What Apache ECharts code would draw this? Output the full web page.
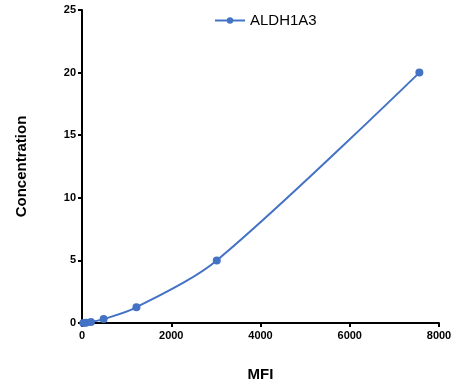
<!DOCTYPE html>
<html><head><meta charset="utf-8">
<script src="https://cdn.jsdelivr.net/npm/echarts@6/dist/echarts.min.js"></script>
<style>html,body{margin:0;padding:0;background:#fff}#c{width:469px;height:392px}</style>
</head><body><div id="c"></div>
<script>
const seriesName = 'ALDH1A3';
const mfi = [30, 90, 200, 485, 1220, 3020, 7560];
const concentration = [0, 0.02, 0.078, 0.3125, 1.25, 5, 20];
const xTicks = [0, 2000, 4000, 6000, 8000];
const yTicks = [0, 5, 10, 15, 20, 25];

const chart = echarts.init(document.getElementById('c'));
const axisFont = {fontFamily: 'Liberation Sans, Arial, sans-serif', fontWeight: 'bold', fontSize: 11, color: '#000'};
chart.setOption({
  animation: false,
  grid: {left: 82, top: 10, right: 30, bottom: 69},
  legend: {
    data: [seriesName], top: 8, left: 209,
    itemWidth: 30, itemHeight: 8, itemGap: 6,
    textStyle: {fontFamily: 'Liberation Sans, Arial, sans-serif', fontSize: 15, color: '#000'}
  },
  xAxis: {
    type: 'value', min: xTicks[0], max: xTicks[xTicks.length-1], interval: 2000,
    name: 'MFI', nameLocation: 'middle', nameGap: 44,
    nameTextStyle: {fontFamily: 'Liberation Sans, Arial, sans-serif', fontWeight: 'bold', fontSize: 15, color: '#000'},
    axisLine: {show: true, lineStyle: {color: '#000', width: 2}},
    axisTick: {show: true, length: 4, lineStyle: {color: '#000', width: 2}},
    axisLabel: Object.assign({margin: 7, formatter: v => String(v)}, axisFont),
    splitLine: {show: false}
  },
  yAxis: {
    type: 'value', min: yTicks[0], max: yTicks[yTicks.length-1], interval: 5,
    name: 'Concentration', nameLocation: 'middle', nameGap: 53, nameRotate: 90,
    nameTextStyle: {fontFamily: 'Liberation Sans, Arial, sans-serif', fontWeight: 'bold', fontSize: 15, color: '#000'},
    axisLine: {show: true, lineStyle: {color: '#000', width: 2}},
    axisTick: {show: true, length: 4, lineStyle: {color: '#000', width: 2}},
    axisLabel: Object.assign({margin: 6, formatter: v => String(v)}, axisFont),
    splitLine: {show: false}
  },
  series: [{
    name: seriesName, type: 'line', smooth: 0.3,
    data: mfi.map((x, i) => [x, concentration[i]]),
    symbol: 'circle', symbolSize: 8,
    itemStyle: {color: '#4472C4'},
    lineStyle: {color: '#4472C4', width: 2}
  }]
});
</script></body></html>
